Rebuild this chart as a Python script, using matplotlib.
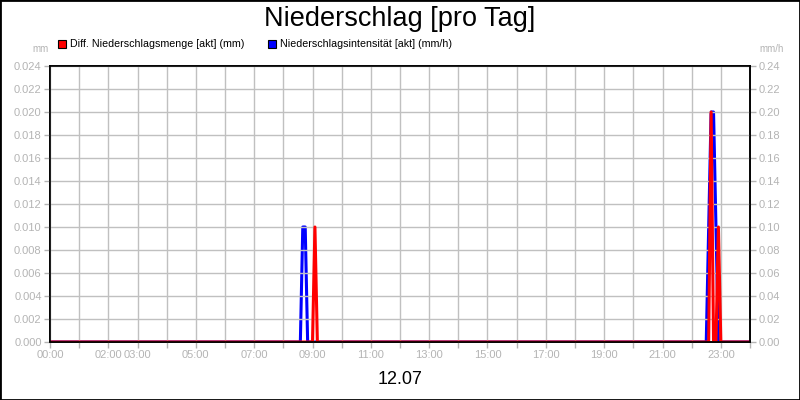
import matplotlib
matplotlib.use("Agg")
import matplotlib.pyplot as plt
from matplotlib.patches import Rectangle
from matplotlib.ticker import FixedLocator, FixedFormatter, MultipleLocator

plt.rcParams["font.family"] = ["Liberation Sans", "DejaVu Sans"]

# data (hours of day, values)
menge_hours = [0.0, 9.0, 9.0833, 9.1667, 22.5833, 22.6667, 22.75, 22.8333,
               22.9167, 23.0, 24.0]
menge_mm = [0.0, 0.0, 0.010, 0.0, 0.0, 0.020, 0.0, 0.0, 0.010, 0.0, 0.0]

intens_hours = [0.0, 8.5833, 8.6667, 8.75, 8.8333, 22.5, 22.6667, 22.75,
                22.9167, 24.0]
intens_mmh = [0.0, 0.0, 0.10, 0.10, 0.0, 0.0, 0.20, 0.20, 0.0, 0.0]

hour_labels = {0: "00:00", 2: "02:00", 3: "03:00", 5: "05:00", 7: "07:00",
               9: "09:00", 11: "11:00", 13: "13:00", 15: "15:00",
               17: "17:00", 19: "19:00", 21: "21:00", 23: "23:00"}

title = "Niederschlag [pro Tag]"
date_label = "12.07"
label_red = "Diff. Niederschlagsmenge [akt] (mm)"
label_blue = "Niederschlagsintensität [akt] (mm/h)"

grey = "#b4b4b4"
grid_grey = "#c0c0c0"

fig = plt.figure(figsize=(8, 4), dpi=100)
ax = fig.add_axes([0.0625, 0.145, 0.875, 0.69])
ax2 = ax.twinx()

ax2.plot(intens_hours, intens_mmh, color="#0000ff", linewidth=2.2)
ax.plot(menge_hours, menge_mm, color="#ff0000", linewidth=2.2)
ax.set_zorder(ax2.get_zorder() + 1)
ax.patch.set_visible(False)

ax.set_xlim(0, 24)
ax.set_ylim(0, 0.024)
ax2.set_ylim(0, 0.24)

hours = list(range(0, 25))
ax.xaxis.set_major_locator(FixedLocator(hours))
ax.xaxis.set_major_formatter(FixedFormatter([hour_labels.get(h, "") for h in hours]))
ax.yaxis.set_major_locator(MultipleLocator(0.002))
ax2.yaxis.set_major_locator(MultipleLocator(0.02))
ax.yaxis.set_major_formatter(plt.FuncFormatter(lambda v, p: f"{v:.3f}"))
ax2.yaxis.set_major_formatter(plt.FuncFormatter(lambda v, p: f"{v:.2f}"))

ax.grid(True, color=grid_grey, linewidth=1)
for a in (ax, ax2):
    a.tick_params(axis="both", colors=grey, labelcolor=grey, labelsize=8,
                  length=4, width=1, pad=2)
    for s in a.spines.values():
        s.set_color("black")
        s.set_linewidth(1.2)

fig.text(0.5, 0.952, title, ha="center", va="center", fontsize=19.5)
fig.text(0.5, 0.05, date_label, ha="center", va="center", fontsize=13)
fig.text(0.051, 0.878, "mm", ha="center", va="center", fontsize=7, color=grey)
fig.text(0.964, 0.878, "mm/h", ha="center", va="center", fontsize=7, color=grey)

# legend
fig.patches.append(Rectangle((58 / 800, 1 - 48 / 400), 8 / 800, 8 / 400,
                             transform=fig.transFigure, facecolor="#ff0000",
                             edgecolor="black", linewidth=0.8))
fig.text(70 / 800, 1 - 44 / 400, label_red, ha="left", va="center", fontsize=7.7)
fig.patches.append(Rectangle((268 / 800, 1 - 48 / 400), 8 / 800, 8 / 400,
                             transform=fig.transFigure, facecolor="#0000ff",
                             edgecolor="black", linewidth=0.8))
fig.text(280 / 800, 1 - 44 / 400, label_blue, ha="left", va="center", fontsize=7.7)

fig.patches.append(Rectangle((0, 0), 1, 1, transform=fig.transFigure,
                             fill=False, edgecolor="black", linewidth=2))

fig.savefig("out.png", dpi=100)
